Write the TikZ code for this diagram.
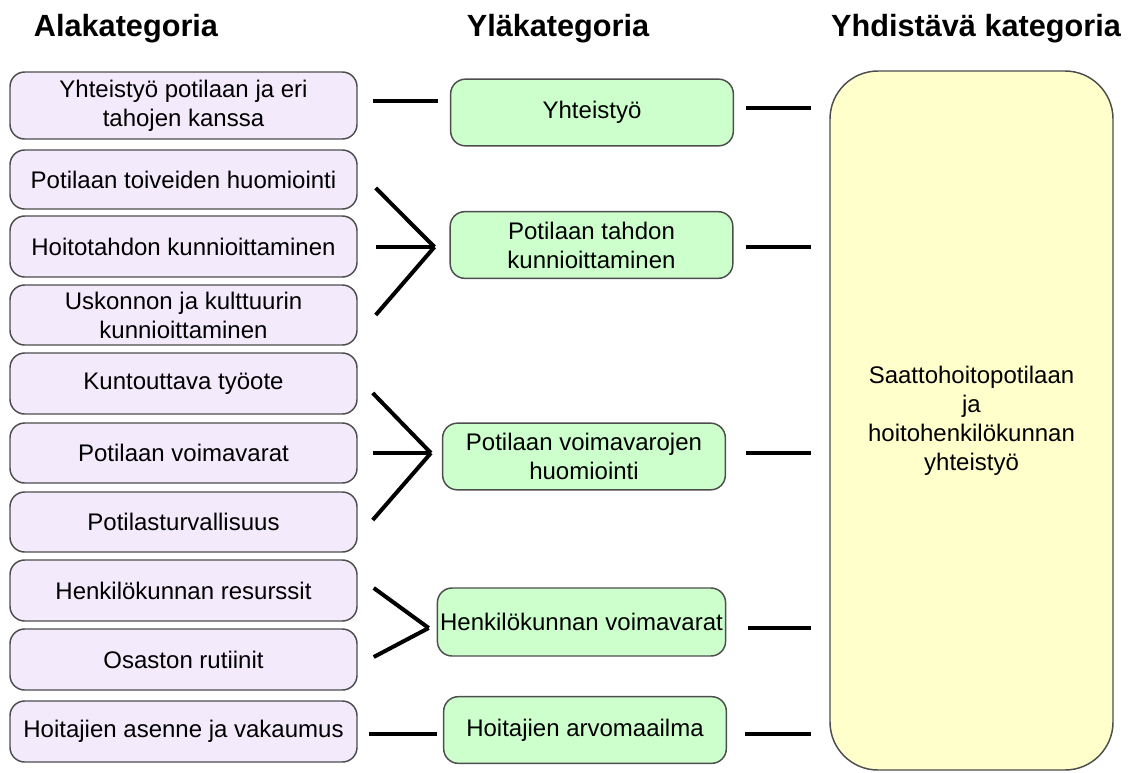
\documentclass[tikz,border=0pt]{standalone}
\usepackage{fontspec}
\setmainfont{Liberation Sans}
\usetikzlibrary{calc}
\definecolor{lav}{HTML}{F3EAFB}
\definecolor{grn}{HTML}{CCFFCC}
\definecolor{yel}{HTML}{FFFFCC}
\definecolor{bord}{HTML}{4D4D4D}
\begin{document}
\begin{tikzpicture}[x=0.75pt,y=-0.75pt,
  box/.style={draw=bord, line width=1.1pt, align=center, inner sep=2pt,
    font=\fontsize{18pt}{21.75pt}\selectfont, text=black},
  lbox/.style={box, fill=lav, rounded corners=11pt, minimum width=260.25pt, minimum height=45pt},
  mbox/.style={box, fill=grn, rounded corners=11pt, minimum width=212pt, minimum height=50pt},
  rbox/.style={box, fill=yel, rounded corners=36pt, minimum width=212.25pt, minimum height=524.25pt},
  head/.style={font=\fontsize{23pt}{27pt}\selectfont\bfseries, anchor=base, inner sep=0pt},
  conn/.style={line width=3pt, line cap=butt}]
\useasboundingbox (0,0) rectangle (1135,772);
% headings
\node[head] (h1) at (126,36) {Alakategoria};
\node[head] (h2) at (558,36) {Yläkategoria};
\node[head] (h3) at (976,36) {Yhdistävä kategoria};
% left boxes
\node[lbox, minimum height=50.25pt] (l1) at (183.5,105.5) {Yhteistyö potilaan ja eri\\tahojen kanssa};
\node[lbox, minimum height=44.25pt] (l2) at (183.5,179.5) {Potilaan toiveiden huomiointi};
\node[lbox, minimum height=45.75pt] (l3) at (183.5,246.5) {Hoitotahdon kunnioittaminen};
\node[lbox] (l4) at (183.5,315) {Uskonnon ja kulttuurin\\kunnioittaminen};
\node[lbox, minimum height=45.75pt] (l5) at (183.5,383.5) {Kuntouttava työote};
\node[lbox] (l6) at (183.5,453) {Potilaan voimavarat};
\node[lbox] (l7) at (183.5,522) {Potilasturvallisuus};
\node[lbox, minimum height=45.75pt] (l8) at (183.5,590.5) {Henkilökunnan resurssit};
\node[lbox, minimum height=45.75pt] (l9) at (183.5,659.5) {Osaston rutiinit};
\node[lbox, minimum height=45.75pt] (l10) at (183.5,731.5) {Hoitajien asenne ja vakaumus};
% middle boxes
\node[mbox] (m1) at (592,112.5) {Yhteistyö};
\node[mbox] (m2) at (591.5,245) {Potilaan tahdon\\kunnioittaminen};
\node[mbox] (m3) at (584,456.5) {Potilaan voimavarojen\\huomiointi};
\node[mbox, minimum height=51pt] (m4) at (581.5,622) {Henkilökunnan voimavarat};
\node[mbox] (m5) at (585,730) {Hoitajien arvomaailma};
% right box
\node[rbox] (R) at (971.5,420.5) {Saattohoitopotilaan\\ja\\hoitohenkilökunnan\\yhteistyö};
% apex coordinates
\coordinate (a2) at ($(m2.west)+(-15,2)$);
\coordinate (a3) at ($(m3.west)+(-11,-3.5)$);
\coordinate (a4) at ($(m4.west)+(-8,6)$);
% left-side connectors
\draw[conn] ($(l1.east)+(15,-4.5)$) -- ($(m1.west)+(-12,-11.5)$);
\draw[conn] ($(l2.east)+(18,8.5)$) -- (a2);
\draw[conn] ($(l3.east)+(18,0.5)$) -- (a2);
\draw[conn] ($(l4.east)+(18,0)$) -- (a2);
\draw[conn] ($(l5.east)+(15,9.5)$) -- (a3);
\draw[conn] ($(l6.east)+(15,0)$) -- (a3);
\draw[conn] ($(l7.east)+(15,-2)$) -- (a3);
\draw[conn] ($(l8.east)+(16,-2.5)$) -- (a4);
\draw[conn] ($(l9.east)+(16,-2.5)$) -- (a4);
\draw[conn] ($(l10.east)+(11,2.5)$) -- ($(m5.west)+(-6,4)$);
% right-side connectors
\coordinate (r1) at ($(m1.east)+(12,-4.5)$);
\coordinate (r2) at ($(m2.east)+(12,2)$);
\coordinate (r3) at ($(m3.east)+(20,-3.5)$);
\coordinate (r4) at ($(m4.east)+(21.5,6)$);
\coordinate (r5) at ($(m5.east)+(18,4)$);
\foreach \r in {r1,r2,r3,r4,r5}
  \draw[conn, shorten >=13.5pt] (\r) -- (\r -| R.west);
\end{tikzpicture}
\end{document}
